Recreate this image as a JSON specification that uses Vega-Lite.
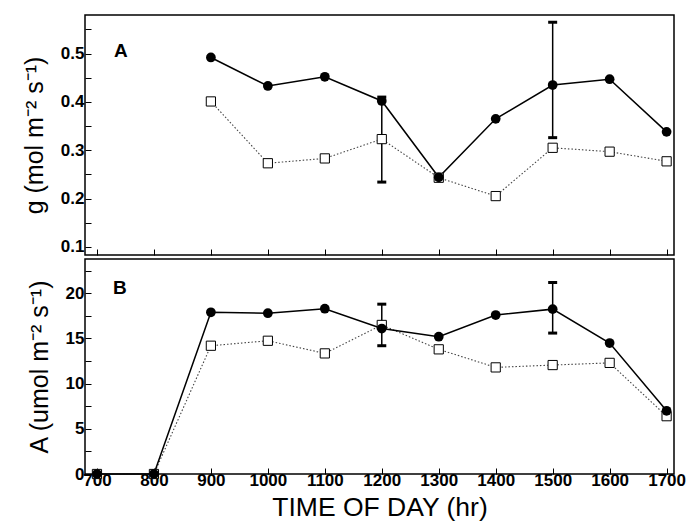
{
  "$schema": "https://vega.github.io/schema/vega-lite/v6.json",
  "background": "white",
  "padding": {"left": 21, "top": 14, "right": 5, "bottom": 0},
  "spacing": 1,
  "config": {
    "view": {"stroke": "black", "strokeWidth": 1.5},
    "font": "Liberation Sans",
    "axis": {
      "domain": false,
      "grid": false,
      "tickColor": "black",
      "tickSize": -6,
      "tickWidth": 1,
      "labelFont": "Liberation Sans",
      "labelFontWeight": "bold",
      "labelFontSize": 17,
      "labelColor": "black",
      "labelPadding": 4,
      "titleFont": "Liberation Sans",
      "titleFontWeight": "normal",
      "titleFontSize": 25,
      "titleColor": "black"
    }
  },
  "datasets": {
    "g": [
      {"t": 900, "s": "filled", "v": 0.492},
      {"t": 1000, "s": "filled", "v": 0.433},
      {"t": 1100, "s": "filled", "v": 0.452},
      {"t": 1200, "s": "filled", "v": 0.402},
      {"t": 1300, "s": "filled", "v": 0.244},
      {"t": 1400, "s": "filled", "v": 0.365},
      {"t": 1500, "s": "filled", "v": 0.435},
      {"t": 1600, "s": "filled", "v": 0.447},
      {"t": 1700, "s": "filled", "v": 0.338},
      {"t": 900, "s": "open", "v": 0.401},
      {"t": 1000, "s": "open", "v": 0.273},
      {"t": 1100, "s": "open", "v": 0.283},
      {"t": 1200, "s": "open", "v": 0.323},
      {"t": 1300, "s": "open", "v": 0.243},
      {"t": 1400, "s": "open", "v": 0.205},
      {"t": 1500, "s": "open", "v": 0.305},
      {"t": 1600, "s": "open", "v": 0.297},
      {"t": 1700, "s": "open", "v": 0.277}
    ],
    "gerr": [
      {"t": 1200, "lo": 0.234, "hi": 0.41},
      {"t": 1500, "lo": 0.326, "hi": 0.565}
    ],
    "a": [
      {"t": 700, "s": "filled", "v": 0},
      {"t": 800, "s": "filled", "v": 0},
      {"t": 900, "s": "filled", "v": 17.9},
      {"t": 1000, "s": "filled", "v": 17.8},
      {"t": 1100, "s": "filled", "v": 18.3},
      {"t": 1200, "s": "filled", "v": 16.1},
      {"t": 1300, "s": "filled", "v": 15.2},
      {"t": 1400, "s": "filled", "v": 17.6},
      {"t": 1500, "s": "filled", "v": 18.25},
      {"t": 1600, "s": "filled", "v": 14.5},
      {"t": 1700, "s": "filled", "v": 7.0},
      {"t": 700, "s": "open", "v": 0},
      {"t": 800, "s": "open", "v": 0},
      {"t": 900, "s": "open", "v": 14.2},
      {"t": 1000, "s": "open", "v": 14.75},
      {"t": 1100, "s": "open", "v": 13.35},
      {"t": 1200, "s": "open", "v": 16.5},
      {"t": 1300, "s": "open", "v": 13.8},
      {"t": 1400, "s": "open", "v": 11.8},
      {"t": 1500, "s": "open", "v": 12.06},
      {"t": 1600, "s": "open", "v": 12.3},
      {"t": 1700, "s": "open", "v": 6.4}
    ],
    "aerr": [
      {"t": 1200, "lo": 14.2, "hi": 18.8},
      {"t": 1500, "lo": 15.6, "hi": 21.2}
    ],
    "labA": [{"t": 742, "v": 0.505, "txt": "A"}],
    "labB": [{"t": 740, "v": 20.6, "txt": "B"}]
  },
  "vconcat": [
    {
      "width": 589,
      "height": 240,
      "layer": [
        {
          "data": {"name": "gerr"},
          "mark": {"type": "rule", "color": "black", "strokeWidth": 1.5, "opacity": 1},
          "encoding": {
            "x": {"field": "t", "type": "quantitative"},
            "y": {"field": "lo", "type": "quantitative"},
            "y2": {"field": "hi"}
          }
        },
        {
          "data": {"name": "gerr"},
          "mark": {"type": "tick", "orient": "horizontal", "color": "black", "size": 9, "thickness": 3, "opacity": 1},
          "encoding": {
            "x": {"field": "t", "type": "quantitative"},
            "y": {"field": "lo", "type": "quantitative"}
          }
        },
        {
          "data": {"name": "gerr"},
          "mark": {"type": "tick", "orient": "horizontal", "color": "black", "size": 9, "thickness": 3, "opacity": 1},
          "encoding": {
            "x": {"field": "t", "type": "quantitative"},
            "y": {"field": "hi", "type": "quantitative"}
          }
        },
        {
          "data": {"name": "g"},
          "transform": [{"filter": "datum.s == 'open'"}],
          "mark": {"type": "line", "color": "#444", "strokeWidth": 1.1, "strokeDash": [1.5, 2]},
          "encoding": {
            "x": {"field": "t", "type": "quantitative"},
            "y": {"field": "v", "type": "quantitative"}
          }
        },
        {
          "data": {"name": "g"},
          "transform": [{"filter": "datum.s == 'filled'"}],
          "mark": {"type": "line", "color": "black", "strokeWidth": 1.5},
          "encoding": {
            "x": {"field": "t", "type": "quantitative"},
            "y": {"field": "v", "type": "quantitative"}
          }
        },
        {
          "data": {"name": "g"},
          "transform": [{"filter": "datum.s == 'open'"}],
          "mark": {"type": "point", "shape": "square", "filled": true, "fill": "white", "stroke": "black", "strokeWidth": 1, "size": 85, "opacity": 1},
          "encoding": {
            "x": {"field": "t", "type": "quantitative"},
            "y": {"field": "v", "type": "quantitative"}
          }
        },
        {
          "data": {"name": "g"},
          "transform": [{"filter": "datum.s == 'filled'"}],
          "mark": {"type": "circle", "color": "black", "size": 95, "opacity": 1},
          "encoding": {
            "x": {"field": "t", "type": "quantitative"},
            "y": {"field": "v", "type": "quantitative"}
          }
        },
        {
          "data": {"name": "labA"},
          "mark": {"type": "text", "fontSize": 19, "fontWeight": "bold", "font": "Liberation Sans", "color": "black"},
          "encoding": {
            "x": {"field": "t", "type": "quantitative"},
            "y": {"field": "v", "type": "quantitative"},
            "text": {"field": "txt"}
          }
        }
      ],
      "encoding": {
        "x": {
          "type": "quantitative",
          "scale": {"domain": [679, 1713], "nice": false, "zero": false},
          "axis": {"title": null, "labels": false, "values": [700, 800, 900, 1000, 1100, 1200, 1300, 1400, 1500, 1600, 1700]}
        },
        "y": {
          "type": "quantitative",
          "scale": {"domain": [0.083, 0.58], "nice": false, "zero": false},
          "axis": {
            "title": "g (mol m⁻² s⁻¹)",
            "values": [0.1, 0.15, 0.2, 0.25, 0.3, 0.35, 0.4, 0.45, 0.5, 0.55],
            "labelExpr": "round(datum.value*100) % 10 == 0 ? format(datum.value, '.1f') : ''",
            "labelPadding": 7,
            "titlePadding": 13
          }
        }
      }
    },
    {
      "width": 589,
      "height": 215,
      "layer": [
        {
          "data": {"name": "aerr"},
          "mark": {"type": "rule", "color": "black", "strokeWidth": 1.5, "opacity": 1},
          "encoding": {
            "x": {"field": "t", "type": "quantitative"},
            "y": {"field": "lo", "type": "quantitative"},
            "y2": {"field": "hi"}
          }
        },
        {
          "data": {"name": "aerr"},
          "mark": {"type": "tick", "orient": "horizontal", "color": "black", "size": 9, "thickness": 3, "opacity": 1},
          "encoding": {
            "x": {"field": "t", "type": "quantitative"},
            "y": {"field": "lo", "type": "quantitative"}
          }
        },
        {
          "data": {"name": "aerr"},
          "mark": {"type": "tick", "orient": "horizontal", "color": "black", "size": 9, "thickness": 3, "opacity": 1},
          "encoding": {
            "x": {"field": "t", "type": "quantitative"},
            "y": {"field": "hi", "type": "quantitative"}
          }
        },
        {
          "data": {"name": "a"},
          "transform": [{"filter": "datum.s == 'open'"}],
          "mark": {"type": "line", "color": "#444", "strokeWidth": 1.1, "strokeDash": [1.5, 2]},
          "encoding": {
            "x": {"field": "t", "type": "quantitative"},
            "y": {"field": "v", "type": "quantitative"}
          }
        },
        {
          "data": {"name": "a"},
          "transform": [{"filter": "datum.s == 'filled'"}],
          "mark": {"type": "line", "color": "black", "strokeWidth": 1.5},
          "encoding": {
            "x": {"field": "t", "type": "quantitative"},
            "y": {"field": "v", "type": "quantitative"}
          }
        },
        {
          "data": {"name": "a"},
          "transform": [{"filter": "datum.s == 'open'"}],
          "mark": {"type": "point", "shape": "square", "filled": true, "fill": "white", "stroke": "black", "strokeWidth": 1, "size": 85, "opacity": 1},
          "encoding": {
            "x": {"field": "t", "type": "quantitative"},
            "y": {"field": "v", "type": "quantitative"}
          }
        },
        {
          "data": {"name": "a"},
          "transform": [{"filter": "datum.s == 'filled'"}],
          "mark": {"type": "circle", "color": "black", "size": 95, "opacity": 1},
          "encoding": {
            "x": {"field": "t", "type": "quantitative"},
            "y": {"field": "v", "type": "quantitative"}
          }
        },
        {
          "data": {"name": "labB"},
          "mark": {"type": "text", "fontSize": 19, "fontWeight": "bold", "font": "Liberation Sans", "color": "black"},
          "encoding": {
            "x": {"field": "t", "type": "quantitative"},
            "y": {"field": "v", "type": "quantitative"},
            "text": {"field": "txt"}
          }
        }
      ],
      "encoding": {
        "x": {
          "type": "quantitative",
          "scale": {"domain": [679, 1713], "nice": false, "zero": false},
          "axis": {"title": "TIME OF DAY (hr)", "titleFontSize": 26.5, "format": "d", "values": [700, 800, 900, 1000, 1100, 1200, 1300, 1400, 1500, 1600, 1700], "labelPadding": 4, "titlePadding": 6}
        },
        "y": {
          "type": "quantitative",
          "scale": {"domain": [0, 23.8], "nice": false, "zero": false},
          "axis": {
            "title": "A (umol m⁻² s⁻¹)",
            "values": [0, 2.5, 5, 7.5, 10, 12.5, 15, 17.5, 20, 22.5],
            "labelExpr": "datum.value % 5 == 0 ? datum.label : ''",
            "labelPadding": 7,
            "titlePadding": 13
          }
        }
      }
    }
  ]
}
